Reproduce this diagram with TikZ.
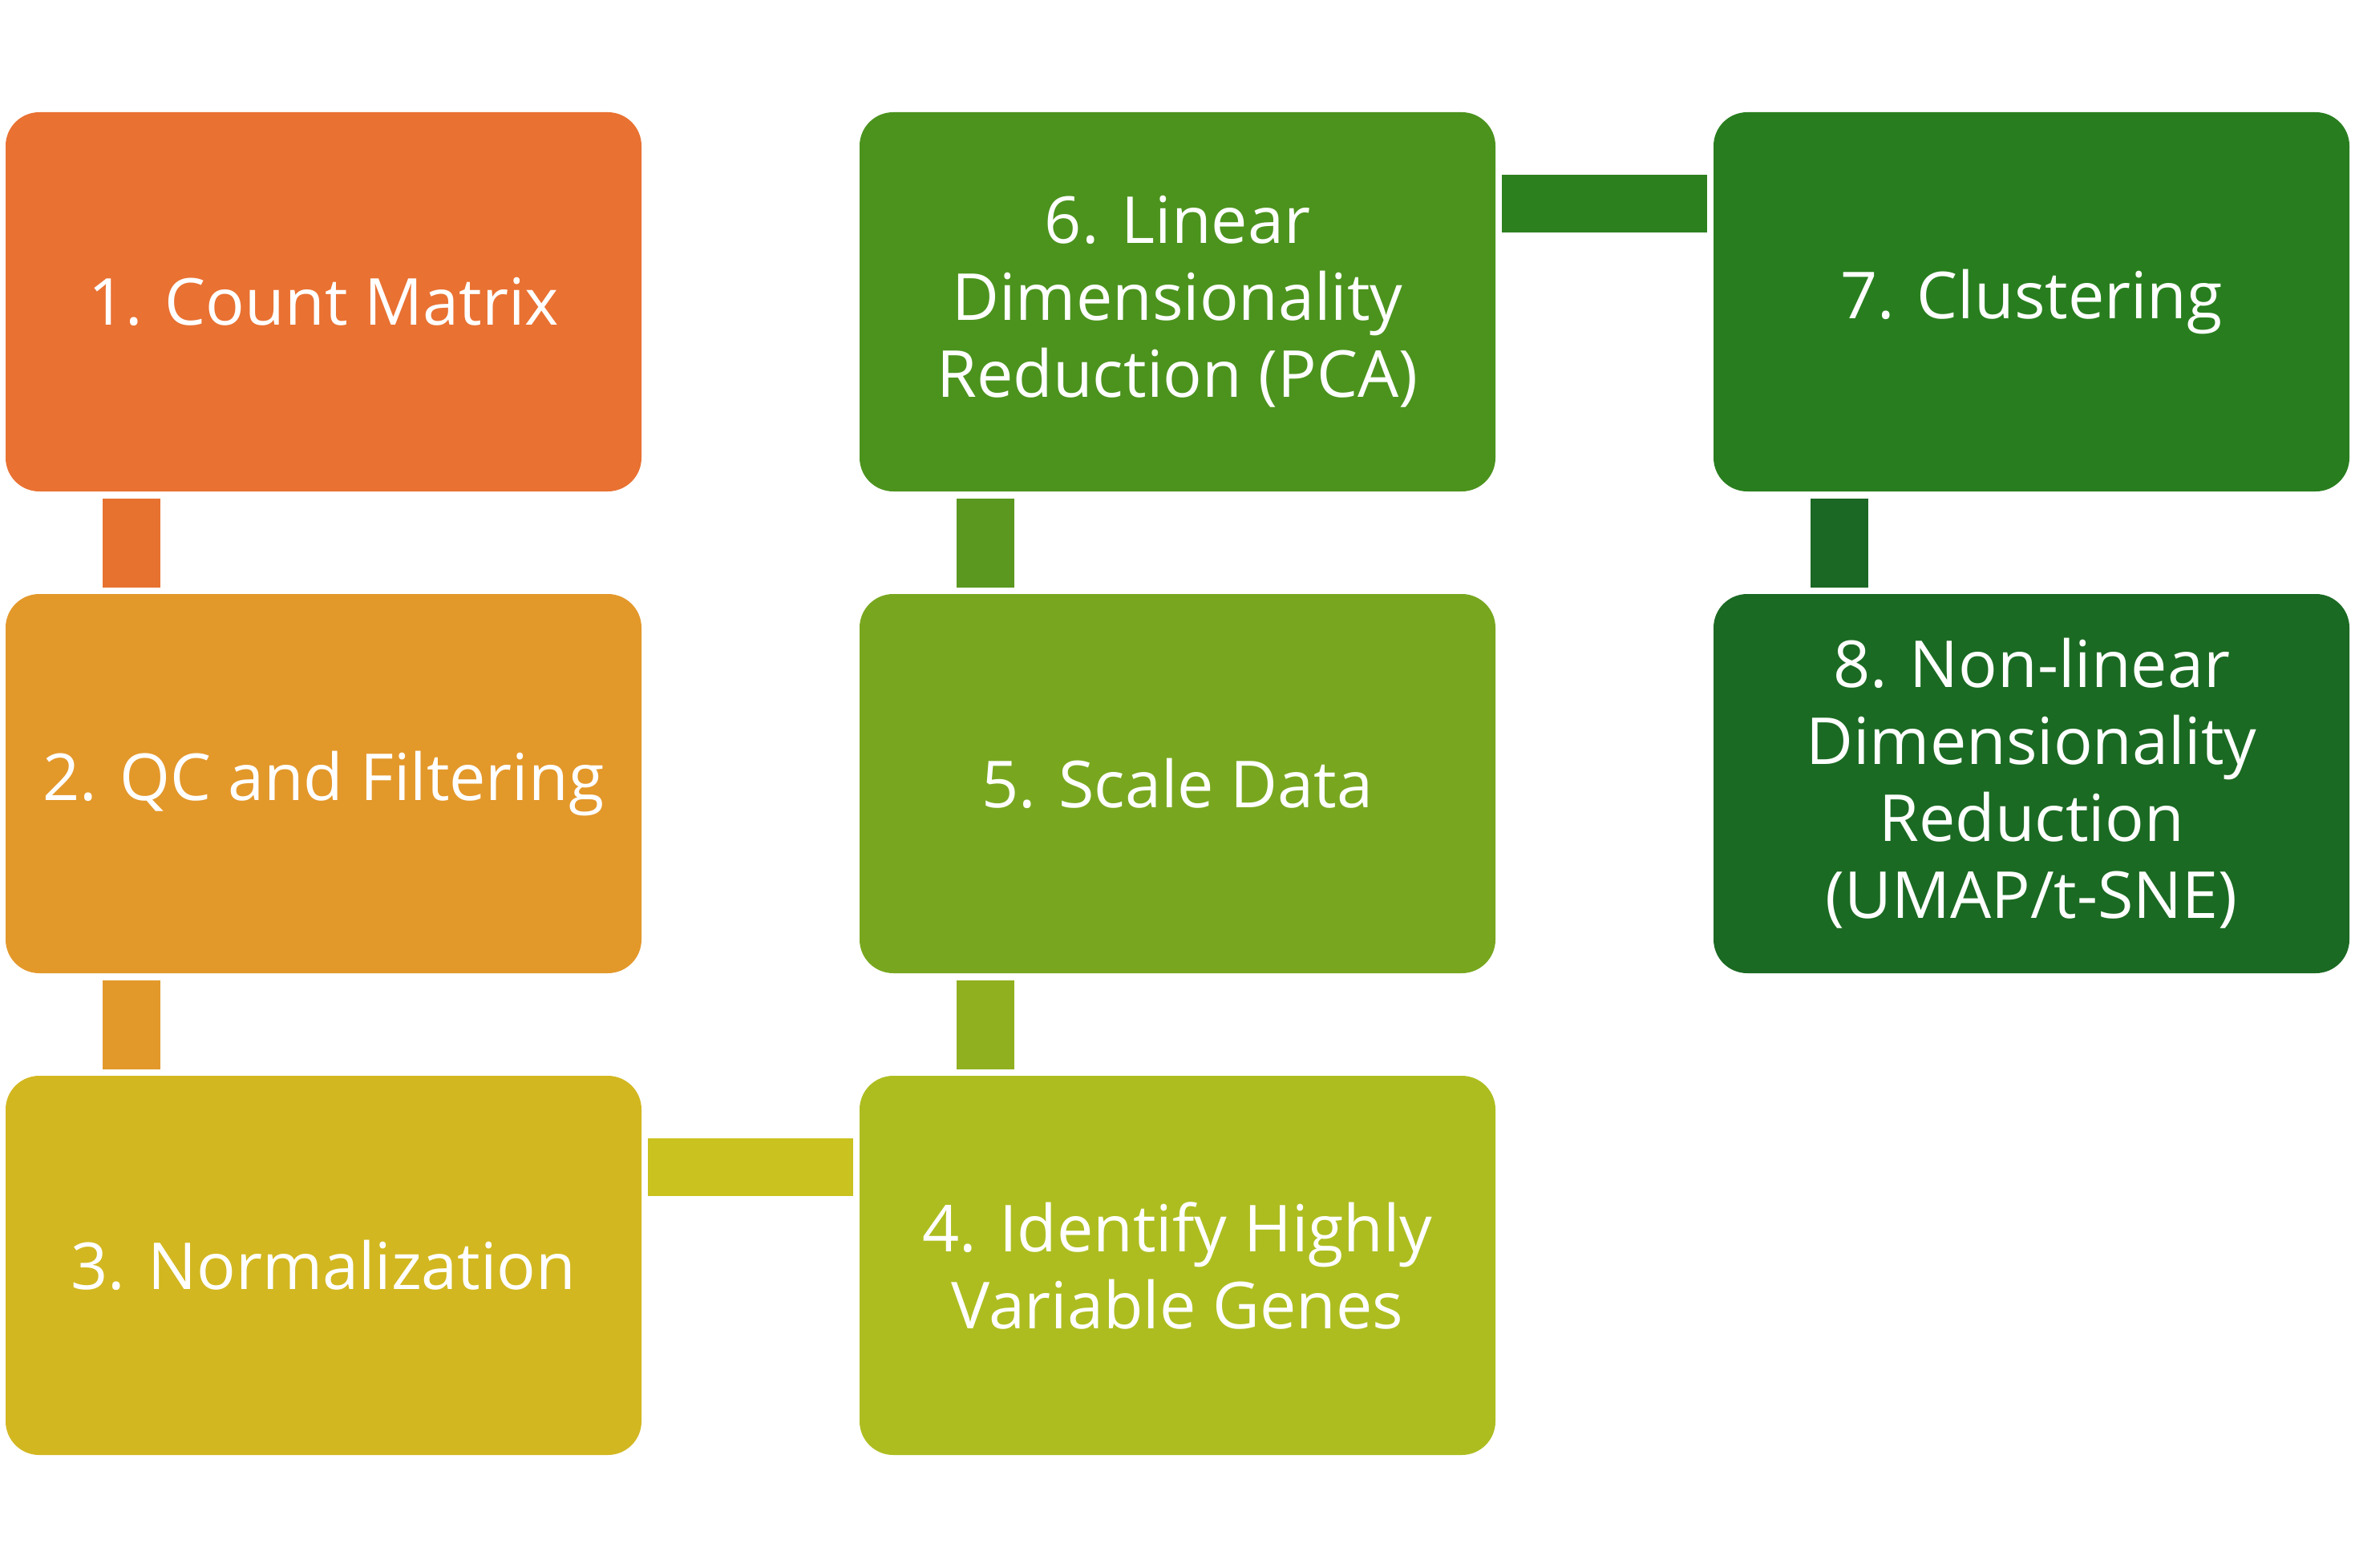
\documentclass[tikz,border=0pt]{standalone}
\usepackage{fontspec}
\setmainfont{Open Sans}
\definecolor{b1}{HTML}{E97132}
\definecolor{b2}{HTML}{E3982A}
\definecolor{b3}{HTML}{D2B720}
\definecolor{b4}{HTML}{ADBD20}
\definecolor{b5}{HTML}{78A71F}
\definecolor{b6}{HTML}{4C931E}
\definecolor{b7}{HTML}{287E1E}
\definecolor{b8}{HTML}{1B6A23}
\definecolor{c12}{HTML}{E77230}
\definecolor{c23}{HTML}{E2992A}
\definecolor{c34}{HTML}{C9C21F}
\definecolor{c45}{HTML}{91B020}
\definecolor{c56}{HTML}{5A981F}
\definecolor{c67}{HTML}{2D801E}
\definecolor{c78}{HTML}{1B6724}
\tikzset{
  stage/.style={rounded corners=0.42cm, minimum width=7.93cm, minimum height=4.73cm,
    inner sep=0pt, text=white, align=center, font=\fontsize{23}{27.3}\selectfont},
}
\newcommand{\vlink}[3]{\fill[#3] ([xshift=1.22cm,yshift=-0.08cm]#1.south west) rectangle ([xshift=1.94cm,yshift=0.07cm]#2.north west);}
\newcommand{\hlink}[3]{\fill[#3] ([xshift=0.07cm,yshift=-0.79cm]#1.north east) rectangle ([xshift=-0.07cm,yshift=-1.51cm]#2.north west);}
\begin{document}
\begin{tikzpicture}
\useasboundingbox (0,0) rectangle (29.37,-19.55);
\node[stage, fill=b1] (n1) at (4.035,-3.765) {1. Count Matrix};
\node[stage, fill=b2] (n2) at (4.035,-9.775) {2. QC and Filtering};
\node[stage, fill=b3] (n3) at (4.035,-15.785) {3. Normalization};
\node[stage, fill=b4] (n4) at (14.685,-15.785) {4. Identify Highly\\Variable Genes};
\node[stage, fill=b5] (n5) at (14.685,-9.775) {5. Scale Data};
\node[stage, fill=b6] (n6) at (14.685,-3.765) {6. Linear\\Dimensionality\\Reduction (PCA)};
\node[stage, fill=b7] (n7) at (25.335,-3.765) {7. Clustering};
\node[stage, fill=b8] (n8) at (25.335,-9.775) {8. Non-linear\\Dimensionality\\Reduction\\(UMAP/t-SNE)};
\vlink{n1}{n2}{c12}
\vlink{n2}{n3}{c23}
\hlink{n3}{n4}{c34}
\vlink{n5}{n4}{c45}
\vlink{n6}{n5}{c56}
\hlink{n6}{n7}{c67}
\vlink{n7}{n8}{c78}
\end{tikzpicture}
\end{document}
